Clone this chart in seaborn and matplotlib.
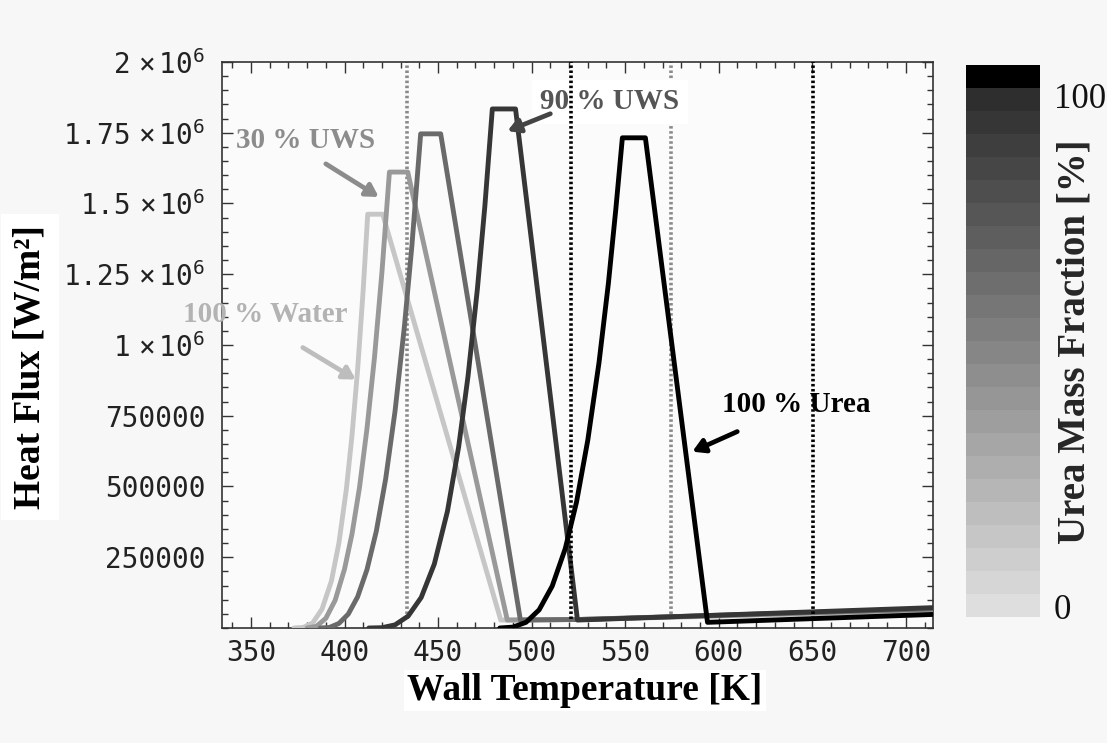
import numpy as np
import pandas as pd
import matplotlib
matplotlib.use("Agg")
import matplotlib.pyplot as plt
from matplotlib.ticker import MultipleLocator, FixedLocator, FixedFormatter
import seaborn as sns

# ---------------- data ----------------
urea_fraction = [0, 30, 60, 90, 100]
line_colors = ["#c6c6c6", "#999999", "#6a6a6a", "#363636", "#000000"]

t_water = [373, 378, 383, 388, 393, 397, 401, 404, 407, 410, 412.4, 420.4, 483.5, 525, 715]
q_water = [0, 2e3, 18e3, 67e3, 166e3, 300e3, 491e3, 680e3, 912e3, 1.196e6, 1.462e6,
           1.462e6, 28e3, 30e3, 60e3]

t_uws30 = [380, 385, 390, 395, 400, 404, 408, 412, 416, 420, 424, 433.8, 487, 525, 715]
q_uws30 = [0, 6e3, 34e3, 98e3, 208e3, 332e3, 496e3, 704e3, 955e3, 1.257e6, 1.611e6,
           1.611e6, 28e3, 30e3, 65e3]

t_uws60 = [387, 392, 397, 402, 407, 412, 417, 422, 427, 432, 436, 440.7, 451.4, 494, 525, 715]
q_uws60 = [0, 2e3, 16e3, 49e3, 110e3, 206e3, 342e3, 527e3, 766e3, 1.065e6, 1.35e6,
           1.746e6, 1.746e6, 28e3, 30e3, 68e3]

t_uws90 = [413, 420, 427, 434, 441, 448, 455, 461, 466, 471, 475, 479, 491.4, 524.5, 715]
q_uws90 = [0, 1e3, 11e3, 42e3, 108e3, 226e3, 412e3, 640e3, 889e3, 1.197e6, 1.49e6,
           1.834e6, 1.834e6, 28e3, 72e3]

t_urea = [483, 490, 497, 504, 511, 518, 524, 530, 536, 541, 545, 548.5, 560.8, 594, 715]
q_urea = [0, 3e3, 20e3, 64e3, 148e3, 281e3, 445e3, 663e3, 937e3, 1.216e6, 1.48e6,
          1.732e6, 1.732e6, 20e3, 48e3]

ref_temps = [433.6, 520.8, 574.6, 650.6]
ref_colors = ["#8a8a8a", "#000000", "#8a8a8a", "#000000"]

y_ticks = [250000, 500000, 750000, 1e6, 1.25e6, 1.5e6, 1.75e6, 2e6]
y_ticklabels = ["250000", "500000", "750000",
                r"$\mathrm{1}\ \times\mathrm{10}^{\mathrm{6}}$",
                r"$\mathrm{1.25}\ \times\mathrm{10}^{\mathrm{6}}$",
                r"$\mathrm{1.5}\ \times\mathrm{10}^{\mathrm{6}}$",
                r"$\mathrm{1.75}\ \times\mathrm{10}^{\mathrm{6}}$",
                r"$\mathrm{2}\ \times\mathrm{10}^{\mathrm{6}}$"]
x_ticks = [350, 400, 450, 500, 550, 600, 650, 700]

# ---------------- build long table ----------------
frames = []
for frac, t, q in zip(urea_fraction,
                      [t_water, t_uws30, t_uws60, t_uws90, t_urea],
                      [q_water, q_uws30, q_uws60, q_uws90, q_urea]):
    frames.append(pd.DataFrame({"T": t, "Q": q, "urea": frac}))
df = pd.concat(frames, ignore_index=True)
palette = dict(zip(urea_fraction, line_colors))

# ---------------- style ----------------
sns.set_theme(style="white")
plt.rcParams["font.family"] = ["DejaVu Sans Mono", "DejaVu Sans"]
plt.rcParams["mathtext.fontset"] = "custom"
plt.rcParams["mathtext.rm"] = "DejaVu Sans Mono"
plt.rcParams["mathtext.it"] = "DejaVu Sans Mono"
plt.rcParams["mathtext.default"] = "regular"

SERIF = "Liberation Serif"

fig = plt.figure(figsize=(11.07, 7.43), dpi=100, facecolor="#f7f7f7")
ax = fig.add_axes([0.2005, 0.1548, 0.6423, 0.7618])
ax.set_facecolor("#fbfbfb")

for tv, c in zip(ref_temps, ref_colors):
    ax.axvline(tv, ymin=0.015, ymax=1, color=c, lw=2.6, ls=(0, (0.7, 0.7)),
               zorder=6 if c == "#000000" else 1)

sns.lineplot(data=df, x="T", y="Q", hue="urea", units="urea", estimator=None,
             sort=False, palette=palette, hue_order=urea_fraction,
             linewidth=3.5, legend=False, ax=ax, zorder=3)

ax.set_xlim(334.5, 714.5)
ax.set_ylim(0, 2e6)
ax.xaxis.set_major_locator(FixedLocator(x_ticks))
ax.xaxis.set_minor_locator(MultipleLocator(10))
ax.yaxis.set_major_locator(FixedLocator(y_ticks))
ax.yaxis.set_major_formatter(FixedFormatter(y_ticklabels))
ax.yaxis.set_minor_locator(MultipleLocator(50000))
ax.tick_params(which="both", direction="in", top=True, right=True,
               bottom=True, left=True, color="#333333", width=1)
ax.tick_params(which="major", length=8, labelsize=20, labelcolor="#222222")
ax.tick_params(axis="y", which="major", pad=12)
ax.tick_params(axis="x", which="major", pad=8)
ax.tick_params(which="minor", length=4)
ax.set_xlabel("")
ax.set_ylabel("")
for s in ax.spines.values():
    s.set_color("#333333")
    s.set_linewidth(1.2)

# ---------------- annotations ----------------
arrow_kw = dict(arrowstyle="-|>,head_length=0.6,head_width=0.35", lw=3.4,
                shrinkA=0, shrinkB=0)
ax.text(379.3, 1.721e6, "30 % UWS", fontsize=21, fontweight="bold", family=SERIF,
        color="#8c8c8c", ha="center", va="center", zorder=4)
ax.annotate("", xy=(418.3, 1.523e6), xytext=(390, 1.64e6),
            arrowprops=dict(color="#8c8c8c", **arrow_kw), zorder=4)

ax.text(357.5, 1.108e6, "100 % Water", fontsize=21, fontweight="bold", family=SERIF,
        color="#b3b3b3", ha="center", va="center", zorder=4, clip_on=False)
ax.annotate("", xy=(406, 0.878e6), xytext=(377.7, 0.991e6),
            arrowprops=dict(color="#bdbdbd", **arrow_kw), zorder=4)

ax.text(504.7, 1.859e6, "90 % UWS", fontsize=21, fontweight="bold", family=SERIF,
        color="#555555", ha="left", va="center", zorder=5,
        bbox=dict(boxstyle="square,pad=0.3", fc="white", ec="none"))
ax.annotate("", xy=(487.1, 1.756e6), xytext=(510, 1.817e6),
            arrowprops=dict(color="#444444", **arrow_kw), zorder=5)

ax.text(601.9, 0.79e6, "100 % Urea", fontsize=21, fontweight="bold", family=SERIF,
        color="#000000", ha="left", va="center", zorder=4)
ax.annotate("", xy=(585.9, 0.623e6), xytext=(609.9, 0.694e6),
            arrowprops=dict(color="#000000", **arrow_kw), zorder=4)

# ---------------- axis titles ----------------
fig.text(30 / 1107, 1 - 367 / 743, "Heat Flux [W/m²]", rotation=90, ha="center",
         va="center", fontsize=27, fontweight="bold", family=SERIF, color="#000000",
         bbox=dict(boxstyle="square,pad=0.3", fc="white", ec="none"))
fig.text(585 / 1107, 1 - 690 / 743, "Wall Temperature [K]", ha="center",
         va="center", fontsize=27, fontweight="bold", family=SERIF, color="#000000",
         bbox=dict(boxstyle="square,pad=0.08", fc="white", ec="none"))

# ---------------- colorbar ----------------
cax = fig.add_axes([966 / 1107, 1 - 617 / 743, 74 / 1107, 552 / 743])
n_bands = 24
edges = np.linspace(-2, 106, n_bands + 1)
shades = np.concatenate([np.linspace(0.87, 0.18, n_bands - 1), [0.0]]).reshape(-1, 1)
cax.pcolormesh([0, 1], edges, shades, cmap="gray", vmin=0, vmax=1, shading="flat")
cax.set_ylim(-2, 106)
cax.set_xlim(0, 1)
cax.set_xticks([])
cax.yaxis.tick_right()
cax.set_yticks([0, 100])
cax.set_yticklabels(["0", "100"], family=SERIF, fontsize=25, color="#111111")
cax.tick_params(axis="y", length=0, pad=10)
for s in cax.spines.values():
    s.set_visible(False)
fig.text(1075 / 1107, 1 - 342 / 743, "Urea Mass Fraction [%]", rotation=90,
         ha="center", va="center", fontsize=28, fontweight="bold", family=SERIF)

fig.savefig("out.png", dpi=100, facecolor=fig.get_facecolor())
